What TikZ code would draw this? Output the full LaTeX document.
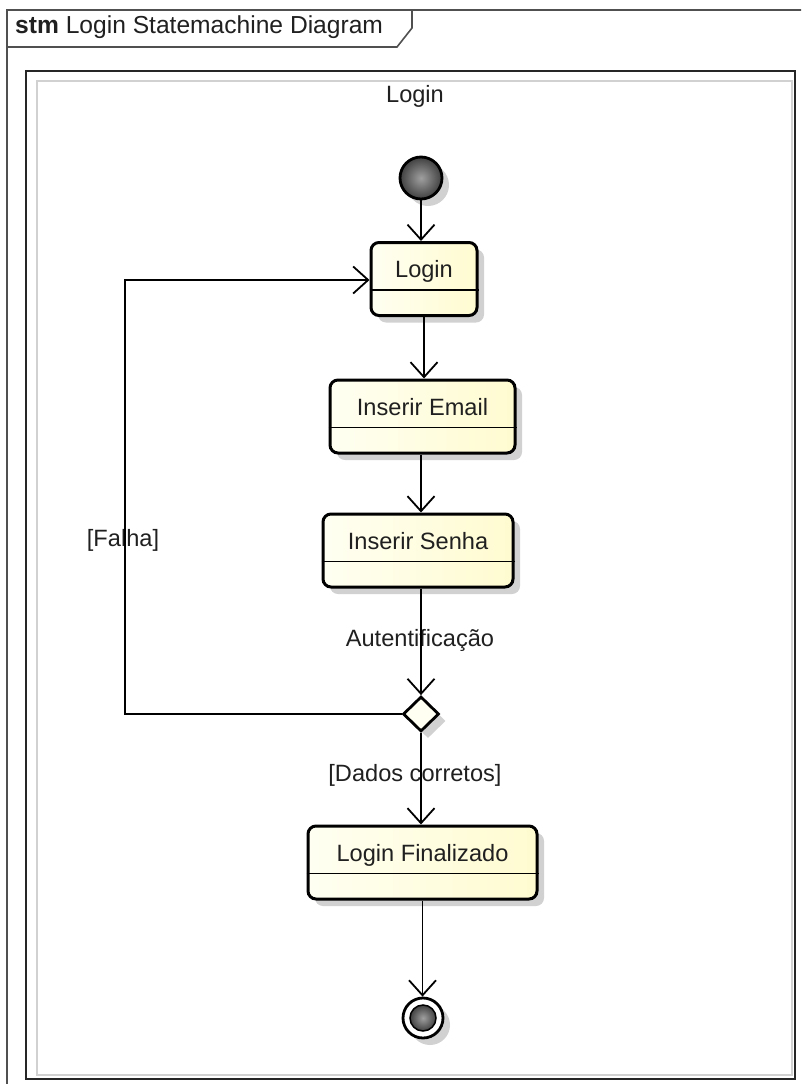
\documentclass[tikz,border=0pt]{standalone}
\usepackage{fontspec}
\setmainfont{Liberation Sans}
\usetikzlibrary{arrows.meta,shapes.geometric,shadows}
\definecolor{boxL}{HTML}{FFFFF2}
\definecolor{boxR}{HTML}{FFFBD0}
\definecolor{framec}{HTML}{505050}
\definecolor{txt}{HTML}{202020}
\tikzset{
  shad/.style={drop shadow={shadow xshift=7pt, shadow yshift=-7pt, opacity=0.18, fill=black}},
  statebox/.style={draw=black, line width=3pt, rounded corners=8pt, left color=boxL, right color=boxR,
    inner sep=0pt, text height=35pt, text depth=38pt, font=\fontsize{23.6}{27}\selectfont, text=txt, shad},
  conn/.style={line width=1.8pt, -{Straight Barb[length=15pt,width=27pt,line width=1.8pt]}},
  lbl/.style={font=\fontsize{23.6}{27}\selectfont, inner sep=0pt, text=txt},
  divider/.style={line width=1.8pt},
  framel/.style={draw=framec, line width=1.6pt},
}
\begin{document}
\begin{tikzpicture}[x=1pt,y=-1pt]
\useasboundingbox (0,0) rectangle (801,1084);
\fill[white] (0,0) rectangle (801,1084);
% outer diagram frame
\begin{scope}
\clip (0,0) rectangle (801,1084);
\draw[framel] (830,10) -- (7,10) -- (7,1100);
\end{scope}
\draw[framel] (7,47) -- (397,47) -- (412,28) -- (412,10);
\node[lbl, anchor=base west, font=\fontsize{24.6}{28}\selectfont] (title) at (15,33) {\textbf{stm} Login Statemachine Diagram};
% composite state
\draw[black!18, line width=1.5pt] (37,81) rectangle (792,1075);
\draw[black!85, line width=2.6pt] (26,71) rectangle (795,1079);
\node[lbl] (comp) at (415,96) {Login};
% initial
\node[circle, draw=black, line width=2.8pt, minimum size=42pt, inner sep=0pt,
      inner color=gray!75, outer color=black!75, shad] (init) at (421,178) {};
% states
\node[statebox, minimum width=106pt] (login) at (424,279) {Login};
\node[statebox, minimum width=185pt] (email) at (422.5,416.5) {Inserir Email};
\node[statebox, minimum width=190pt] (senha) at (418,550.5) {Inserir Senha};
\node[statebox, minimum width=229pt] (final) at (422.5,862.5) {Login Finalizado};
\foreach \n in {login,email,senha,final}
  \draw[divider] ([yshift=-49pt]\n.north west) -- ([yshift=-49pt]\n.north east);
% decision
\node[diamond, draw=black, line width=2.8pt, minimum width=36pt, minimum height=35pt, inner sep=0pt,
      fill=boxL, shad] (dec) at (421,714) {};
% final state
\node[circle, draw=black, line width=2.8pt, minimum size=40pt, inner sep=0pt, fill=white, shad] (end) at (423,1018) {};
\node[circle, draw=black, line width=1.5pt, minimum size=26pt, inner sep=0pt,
      inner color=gray!75, outer color=black!75] (endin) at (end.center) {};
% labels
\node[lbl] (lauth) at (420,640) {Autentificação};
\node[lbl] (ldados) at (415,775) {[Dados corretos]};
\node[lbl] (lfalha) at (123,540) {[Falha]};
% connectors
\coordinate (c1) at (125,714);
\coordinate (c2) at (125,280);
\draw[conn] (init) -- (init |- login.north);
\draw[conn] (login.south) -- (login.south |- email.north);
\draw[conn] ([xshift=-1.5pt]email.south) -- ([xshift=-1.5pt]email.south |- senha.north);
\draw[conn] ([xshift=3pt]senha.south) -- ([xshift=3pt]senha.south |- dec.north);
\draw[conn] (dec.south) -- (dec.south |- final.north);
\draw[conn] (final.south) -- (final.south |- end.north);
\draw[conn] (dec.west) -- (c1) -- (c2) -- (login.west |- c2);
\end{tikzpicture}
\end{document}
